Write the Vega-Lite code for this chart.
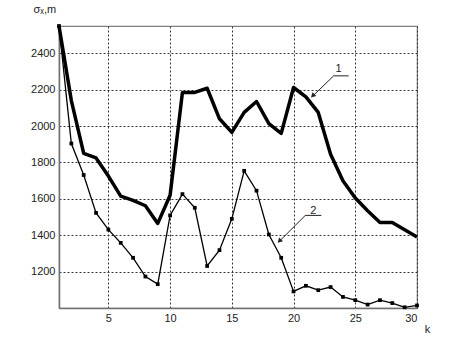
{
  "$schema": "https://vega.github.io/schema/vega-lite/v6.json",
  "width": 358,
  "height": 282,
  "autosize": {"type": "none"},
  "padding": {"left": 59, "top": 26, "right": 41, "bottom": 37},
  "background": "white",
  "config": {
    "view": {"stroke": "#808080", "strokeWidth": 1.2},
    "axis": {
      "labelFont": "Liberation Sans",
      "labelFontSize": 11,
      "labelColor": "#222",
      "titleFont": "Liberation Sans",
      "titleFontSize": 11,
      "titleFontWeight": "normal",
      "titleColor": "#222",
      "domainColor": "#707070",
      "domainWidth": 1.5,
      "ticks": false,
      "gridColor": "#333",
      "gridDash": [2, 2],
      "gridWidth": 1,
      "gridOpacity": 1
    }
  },
  "datasets": {
    "series": [
      {"k": 1, "v": 2550, "s": "1"}, {"k": 2, "v": 2140, "s": "1"}, {"k": 3, "v": 1850, "s": "1"},
      {"k": 4, "v": 1825, "s": "1"}, {"k": 5, "v": 1725, "s": "1"}, {"k": 6, "v": 1615, "s": "1"},
      {"k": 7, "v": 1592, "s": "1"}, {"k": 8, "v": 1562, "s": "1"}, {"k": 9, "v": 1465, "s": "1"},
      {"k": 10, "v": 1620, "s": "1"}, {"k": 11, "v": 2185, "s": "1"}, {"k": 12, "v": 2185, "s": "1"},
      {"k": 13, "v": 2208, "s": "1"}, {"k": 14, "v": 2040, "s": "1"}, {"k": 15, "v": 1965, "s": "1"},
      {"k": 16, "v": 2075, "s": "1"}, {"k": 17, "v": 2135, "s": "1"}, {"k": 18, "v": 2013, "s": "1"},
      {"k": 19, "v": 1960, "s": "1"}, {"k": 20, "v": 2212, "s": "1"}, {"k": 21, "v": 2160, "s": "1"},
      {"k": 22, "v": 2075, "s": "1"}, {"k": 23, "v": 1845, "s": "1"}, {"k": 24, "v": 1700, "s": "1"},
      {"k": 25, "v": 1605, "s": "1"}, {"k": 26, "v": 1535, "s": "1"}, {"k": 27, "v": 1470, "s": "1"},
      {"k": 28, "v": 1470, "s": "1"}, {"k": 29, "v": 1430, "s": "1"}, {"k": 30, "v": 1390, "s": "1"},
      {"k": 1, "v": 2550, "s": "2"}, {"k": 2, "v": 1904, "s": "2"}, {"k": 3, "v": 1731, "s": "2"},
      {"k": 4, "v": 1523, "s": "2"}, {"k": 5, "v": 1431, "s": "2"}, {"k": 6, "v": 1358, "s": "2"},
      {"k": 7, "v": 1276, "s": "2"}, {"k": 8, "v": 1173, "s": "2"}, {"k": 9, "v": 1131, "s": "2"},
      {"k": 10, "v": 1509, "s": "2"}, {"k": 11, "v": 1626, "s": "2"}, {"k": 12, "v": 1551, "s": "2"},
      {"k": 13, "v": 1231, "s": "2"}, {"k": 14, "v": 1318, "s": "2"}, {"k": 15, "v": 1490, "s": "2"},
      {"k": 16, "v": 1754, "s": "2"}, {"k": 17, "v": 1645, "s": "2"}, {"k": 18, "v": 1404, "s": "2"},
      {"k": 19, "v": 1276, "s": "2"}, {"k": 20, "v": 1091, "s": "2"}, {"k": 21, "v": 1122, "s": "2"},
      {"k": 22, "v": 1098, "s": "2"}, {"k": 23, "v": 1115, "s": "2"}, {"k": 24, "v": 1061, "s": "2"},
      {"k": 25, "v": 1043, "s": "2"}, {"k": 26, "v": 1019, "s": "2"}, {"k": 27, "v": 1043, "s": "2"},
      {"k": 28, "v": 1027, "s": "2"}, {"k": 29, "v": 1004, "s": "2"}, {"k": 30, "v": 1014, "s": "2"}
    ],
    "labels": [
      {"k": 23.65, "v": 2313, "t": "1"},
      {"k": 21.6, "v": 1531, "t": "2"}
    ],
    "leaders": [
      {"k": 23.25, "v": 2276, "k2": 24.46, "v2": 2276},
      {"k": 23.25, "v": 2276, "k2": 21.6, "v2": 2168},
      {"k": 20.95, "v": 1509, "k2": 22.25, "v2": 1509},
      {"k": 20.95, "v": 1509, "k2": 18.9, "v2": 1370}
    ],
    "arrows": [
      {"k": 21.55, "v": 2166},
      {"k": 18.85, "v": 1368}
    ]
  },
  "encoding": {
    "x": {
      "field": "k", "type": "quantitative",
      "scale": {"domain": [1, 30], "nice": false, "zero": false},
      "axis": {
        "values": [5, 10, 15, 20, 25, 30],
        "format": "d",
        "title": "k",
        "titleAngle": 0,
        "titleX": 368,
        "titleY": 26,
        "titleAlign": "center",
        "titleBaseline": "bottom",
        "labelPadding": 4
      }
    },
    "y": {
      "field": "v", "type": "quantitative",
      "scale": {"domain": [1000, 2550], "nice": false, "zero": false},
      "axis": {
        "values": [1200, 1400, 1600, 1800, 2000, 2200, 2400],
        "format": "d",
        "title": "σₓ,m",
        "titleAngle": 0,
        "titleX": -26,
        "titleY": -14,
        "titleAlign": "left",
        "titleBaseline": "alphabetic",
        "labelPadding": 4
      }
    }
  },
  "layer": [
    {
      "data": {"name": "series"},
      "transform": [{"filter": "datum.s === '1'"}],
      "mark": {"type": "line", "color": "black", "strokeWidth": 3.5, "strokeJoin": "round"}
    },
    {
      "data": {"name": "series"},
      "transform": [{"filter": "datum.s === '2'"}],
      "mark": {"type": "line", "color": "black", "strokeWidth": 1.3,
        "point": {"shape": "square", "size": 14, "filled": true, "color": "black"}}
    },
    {
      "data": {"name": "leaders"},
      "mark": {"type": "rule", "color": "#222", "strokeWidth": 1},
      "encoding": {
        "x2": {"field": "k2"},
        "y2": {"field": "v2"}
      }
    },
    {
      "data": {"name": "arrows"},
      "mark": {"type": "point", "shape": "triangle-up", "filled": true, "color": "#222", "size": 30, "angle": 225, "opacity": 1}
    },
    {
      "data": {"name": "labels"},
      "mark": {"type": "text", "font": "Liberation Sans", "fontSize": 11, "color": "#222", "baseline": "middle", "align": "center"},
      "encoding": {"text": {"field": "t"}}
    }
  ]
}
